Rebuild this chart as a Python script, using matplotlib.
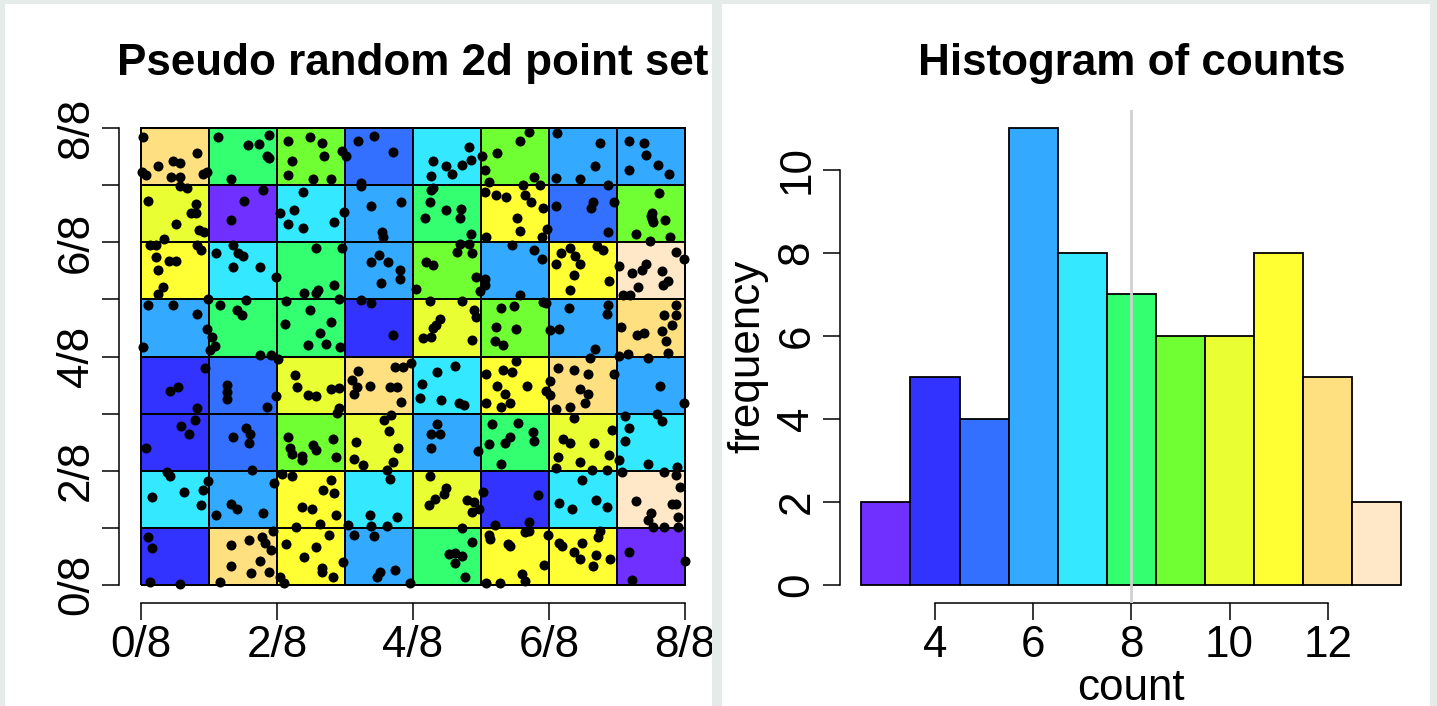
"""Pseudo random 2d point set on an 8x8 grid, plus a histogram of the per-cell counts."""
import numpy as np
import matplotlib
matplotlib.use("Agg")
import matplotlib.pyplot as plt
from matplotlib.colors import ListedColormap, BoundaryNorm
from matplotlib.patches import Rectangle

plt.rcParams["font.family"] = ["Liberation Sans", "DejaVu Sans"]

# --- Data ---
# points per cell, top row (7/8..8/8) first, left to right
cell_counts = [
    [12, 8, 9, 5, 7, 9, 6, 6],
    [10, 3, 7, 6, 8, 11, 5, 9],
    [11, 7, 8, 6, 9, 6, 11, 13],
    [6, 8, 8, 4, 10, 9, 6, 12],
    [4, 5, 10, 12, 7, 11, 12, 6],
    [4, 5, 9, 10, 6, 8, 10, 7],
    [7, 6, 11, 7, 10, 4, 7, 13],
    [4, 12, 11, 6, 8, 11, 11, 3],
]
count_levels = [3, 4, 5, 6, 7, 8, 9, 10, 11, 12, 13]
level_colors = ["#7030ff", "#3333ff", "#3370ff", "#33aaff", "#33e8ff", "#33ff70",
                "#70ff33", "#eaff33", "#ffff33", "#ffe080", "#ffe8c8"]

# point coordinates in eighths, one line per grid row, top first
pts_x8 = [
    0.03, 0.83, 0.48, 0.58, 0.26, 0.02, 0.07, 0.44, 0.58, 0.92, 0.97, 1.13, 1.57, 1.73, 1.88, 1.86, 1.88, 1.33,
    2.17, 2.48, 2.67, 2.69, 2.22, 2.17, 2.53, 2.79, 2.96, 3.19, 3.42, 3.70, 3.01, 3.24, 4.30, 4.49, 4.57, 4.72,
    4.85, 4.82, 4.27, 5.71, 5.57, 5.24, 5.02, 5.06, 5.11, 5.78, 5.62, 5.87, 6.11, 6.75, 6.67, 6.10, 6.46, 6.86,
    7.18, 7.40, 7.43, 7.17, 7.60, 7.76,
    0.11, 0.81, 0.74, 0.81, 0.52, 0.85, 0.93, 0.34, 0.68, 0.57, 1.80, 1.52, 1.33, 2.38, 2.25, 2.05, 2.17, 2.38,
    2.84, 2.99, 3.24, 3.38, 3.83, 3.54, 3.56, 4.29, 4.27, 4.25, 4.48, 4.71, 4.69, 4.18, 4.85, 5.06, 5.22, 5.37,
    5.65, 5.73, 5.91, 5.53, 5.57, 5.97, 5.89, 5.08, 6.10, 6.64, 6.62, 6.95, 6.87, 7.61, 7.51, 7.51, 7.52, 7.71,
    7.27, 7.48, 7.77, 7.49,
    0.13, 0.23, 0.22, 0.41, 0.52, 0.25, 0.82, 0.89, 0.33, 0.25, 0.99, 1.10, 1.36, 1.43, 1.50, 1.36, 1.75, 1.99,
    2.58, 2.95, 2.84, 2.61, 2.58, 2.40, 2.91, 3.50, 3.39, 3.63, 3.81, 3.81, 3.53, 4.69, 4.83, 4.64, 4.87, 4.19,
    4.30, 4.93, 4.98, 4.04, 5.45, 5.78, 5.89, 5.06, 5.06, 5.57, 6.31, 6.18, 6.70, 6.79, 6.38, 6.46, 6.10, 6.36,
    6.88, 6.31, 7.03, 7.22, 7.36, 7.43, 7.66, 7.86, 7.98, 7.75, 7.68, 7.31, 7.09, 7.19,
    0.11, 0.48, 0.83, 0.97, 0.03, 1.16, 1.41, 1.49, 1.54, 1.05, 1.09, 1.01, 1.75, 1.91, 2.14, 2.48, 2.12, 2.79,
    2.64, 2.72, 2.45, 2.93, 3.24, 3.39, 3.70, 4.25, 4.72, 4.90, 4.93, 4.39, 4.34, 4.30, 4.14, 4.27, 4.86, 5.29,
    5.48, 5.22, 5.52, 5.21, 5.32, 5.91, 5.96, 6.29, 6.87, 6.85, 6.01, 6.15, 6.67, 7.86, 7.86, 7.69, 7.80, 7.05,
    7.29, 7.40, 7.66, 7.72, 7.16, 7.75, 7.03,
    0.94, 0.43, 0.55, 0.83, 1.26, 1.26, 1.26, 1.99, 1.86, 2.27, 2.30, 2.45, 2.58, 2.80, 2.91, 2.91, 2.88, 2.02,
    3.19, 3.11, 3.17, 3.14, 3.37, 3.74, 3.86, 3.97, 3.66, 3.76, 3.83, 4.36, 4.62, 4.13, 4.10, 4.41, 4.68, 4.75,
    5.52, 5.08, 5.32, 5.45, 5.24, 5.35, 5.67, 5.96, 5.08, 5.29, 5.42, 6.13, 6.36, 6.57, 6.60, 6.95, 6.02, 6.02,
    6.46, 6.57, 6.53, 6.31, 6.10, 7.63, 7.98, 7.45,
    0.07, 0.59, 0.71, 0.79, 1.36, 1.55, 1.60, 1.59, 1.63, 2.17, 2.19, 2.22, 2.37, 2.37, 2.53, 2.58, 2.82, 2.87,
    3.68, 3.57, 3.65, 3.16, 3.78, 3.14, 3.27, 3.70, 3.62, 4.36, 4.27, 4.39, 4.27, 4.95, 5.16, 5.55, 5.76, 5.78,
    5.42, 5.35, 5.11, 5.29, 6.36, 6.92, 6.20, 6.31, 6.66, 6.13, 6.46, 6.88, 6.10, 6.63, 6.85, 7.12, 7.17, 7.58,
    7.66, 7.12, 7.03, 7.45, 7.88,
    0.38, 0.43, 0.64, 0.17, 0.92, 0.89, 0.99, 1.96, 1.33, 1.42, 1.80, 1.10, 2.07, 2.22, 2.79, 2.68, 2.84, 2.37,
    2.51, 2.87, 2.64, 2.28, 3.37, 3.76, 3.39, 3.62, 3.05, 3.66, 4.25, 4.48, 4.45, 4.32, 4.23, 4.80, 4.89, 4.86,
    4.97, 5.03, 5.83, 5.71, 5.20, 6.49, 6.15, 6.34, 6.69, 6.85, 7.07, 7.69, 7.87, 7.92, 7.28, 7.80, 7.87, 7.50,
    7.45, 7.53, 7.69, 7.89, 7.89,
    0.11, 0.17, 0.13, 0.58, 1.33, 1.59, 1.78, 1.82, 1.91, 1.94, 1.75, 1.33, 1.62, 1.88, 1.16, 2.14, 2.58, 2.76,
    2.40, 2.67, 2.67, 2.82, 2.97, 2.04, 2.10, 3.13, 3.43, 3.52, 3.47, 3.73, 3.95, 4.72, 4.87, 4.53, 4.62, 4.72,
    4.61, 4.77, 5.12, 5.13, 5.40, 5.43, 5.65, 5.71, 5.92, 5.60, 5.65, 5.08, 5.28, 5.98, 6.15, 6.19, 6.49, 6.36,
    6.46, 6.69, 6.64, 6.89, 6.75, 6.72, 7.18, 7.22, 7.99,
]
pts_y8 = [
    7.85, 7.57, 7.42, 7.39, 7.33, 7.23, 7.18, 7.15, 7.15, 7.20, 7.23, 7.85, 7.70, 7.73, 7.88, 7.52, 7.48, 7.11,
    7.78, 7.85, 7.75, 7.52, 7.42, 7.18, 7.11, 7.11, 7.61, 7.78, 7.86, 7.58, 7.52, 7.04, 7.42, 7.33, 7.20, 7.36,
    7.45, 7.67, 7.17, 7.94, 7.78, 7.57, 7.51, 7.26, 7.05, 7.14, 7.01, 7.01, 7.91, 7.75, 7.33, 7.12, 7.11, 7.01,
    7.78, 7.75, 7.54, 7.26, 7.36, 7.20,
    6.73, 6.68, 6.51, 6.51, 6.33, 6.22, 6.18, 6.06, 6.95, 6.98, 6.92, 6.73, 6.39, 6.89, 6.57, 6.51, 6.33, 6.26,
    6.36, 6.54, 6.98, 6.64, 6.70, 6.19, 6.09, 6.96, 6.91, 6.70, 6.57, 6.58, 6.42, 6.42, 6.15, 6.89, 6.83, 6.80,
    6.83, 6.70, 6.61, 6.42, 6.20, 6.23, 6.09, 6.09, 6.64, 6.71, 6.61, 6.70, 6.18, 6.86, 6.51, 6.41, 6.35, 6.39,
    6.15, 6.03, 6.09, 6.46,
    5.95, 5.95, 5.75, 5.68, 5.68, 5.52, 5.95, 5.87, 5.21, 5.09, 5.01, 5.81, 5.95, 5.81, 5.77, 5.56, 5.56, 5.40,
    5.90, 5.90, 5.25, 5.17, 5.11, 5.12, 5.01, 5.78, 5.65, 5.65, 5.52, 5.36, 5.29, 5.97, 5.97, 5.83, 5.81, 5.66,
    5.60, 5.40, 5.15, 5.19, 5.96, 5.87, 5.71, 5.35, 5.26, 5.08, 5.90, 5.81, 5.93, 5.87, 5.76, 5.62, 5.62, 5.43,
    5.32, 5.16, 5.59, 5.47, 5.52, 5.62, 5.50, 5.84, 5.71, 5.33, 5.25, 5.21, 5.07, 5.07,
    4.91, 4.91, 4.75, 4.48, 4.17, 4.91, 4.82, 4.72, 4.99, 4.35, 4.18, 4.12, 4.02, 4.02, 4.97, 4.82, 4.57, 4.61,
    4.41, 4.22, 4.20, 4.17, 4.99, 4.94, 4.38, 4.97, 4.98, 4.82, 4.69, 4.65, 4.55, 4.50, 4.32, 4.35, 4.29, 4.85,
    4.88, 4.51, 4.48, 4.27, 4.20, 4.96, 4.93, 4.85, 4.91, 4.74, 4.47, 4.49, 4.13, 4.91, 4.72, 4.72, 4.56, 4.51,
    4.37, 4.41, 4.45, 4.27, 4.04, 4.06, 4.01,
    3.80, 3.39, 3.46, 3.09, 3.50, 3.38, 3.26, 3.31, 3.12, 3.67, 3.47, 3.33, 3.30, 3.43, 3.44, 3.09, 3.01, 3.96,
    3.74, 3.58, 3.47, 3.35, 3.48, 3.82, 3.82, 3.88, 3.46, 3.46, 3.20, 3.73, 3.84, 3.51, 3.27, 3.23, 3.18, 3.15,
    3.92, 3.70, 3.77, 3.73, 3.49, 3.35, 3.49, 3.39, 3.18, 3.12, 3.18, 3.80, 3.76, 3.69, 3.98, 3.70, 3.57, 3.32,
    3.43, 3.35, 3.19, 3.12, 3.08, 3.49, 3.18, 3.98,
    2.40, 2.78, 2.65, 2.89, 2.59, 2.75, 2.65, 2.49, 2.01, 2.59, 2.40, 2.30, 2.26, 2.18, 2.45, 2.36, 2.55, 2.24,
    2.97, 2.89, 2.70, 2.50, 2.39, 2.21, 2.10, 2.15, 2.01, 2.82, 2.65, 2.65, 2.40, 2.34, 2.81, 2.84, 2.68, 2.52,
    2.59, 2.49, 2.46, 2.12, 2.93, 2.71, 2.55, 2.49, 2.49, 2.24, 2.15, 2.27, 2.04, 2.01, 2.01, 2.96, 2.74, 2.99,
    2.87, 2.52, 2.18, 2.12, 2.07,
    1.98, 1.90, 1.63, 1.53, 1.66, 1.40, 1.82, 1.78, 1.42, 1.32, 1.25, 1.22, 1.94, 1.91, 1.84, 1.66, 1.60, 1.37,
    1.33, 1.22, 1.06, 1.02, 1.22, 1.19, 1.03, 1.03, 1.04, 1.85, 1.91, 1.69, 1.59, 1.50, 1.40, 1.48, 1.45, 1.28,
    1.33, 1.63, 1.57, 1.10, 1.04, 1.84, 1.44, 1.33, 1.48, 1.36, 1.98, 1.98, 1.92, 1.71, 1.47, 1.42, 1.42, 1.25,
    1.13, 1.02, 1.02, 1.02, 1.19,
    0.83, 0.64, 0.05, 0.01, 0.70, 0.79, 0.83, 0.73, 0.61, 0.94, 0.41, 0.33, 0.20, 0.23, 0.05, 0.72, 0.67, 0.88,
    0.48, 0.30, 0.23, 0.14, 0.39, 0.14, 0.03, 0.88, 0.85, 0.23, 0.14, 0.26, 0.03, 0.99, 0.75, 0.54, 0.56, 0.51,
    0.38, 0.14, 0.87, 0.81, 0.72, 0.68, 0.92, 0.95, 0.35, 0.19, 0.07, 0.03, 0.03, 0.87, 0.73, 0.68, 0.73, 0.58,
    0.45, 0.52, 0.33, 0.45, 0.95, 0.83, 0.58, 0.08, 0.42,
]

# --- Derived ---
grid = np.array(cell_counts)[::-1]          # bottom row first for pcolormesh
cmap = ListedColormap(level_colors)
norm = BoundaryNorm(np.arange(2.5, 14.5, 1), cmap.N)
freq = [int((grid == k).sum()) for k in count_levels]

W, H = 1437, 706
BG = "#e4ebe8"
fig = plt.figure(figsize=(W / 100, H / 100), dpi=100, facecolor=BG)


def px_axes(x0, x1, y_top, y_bot):
    return fig.add_axes([x0 / W, 1 - y_bot / H, (x1 - x0) / W, (y_bot - y_top) / H])


# white device panels
for x0, x1 in [(5, 712), (722, 1430)]:
    fig.add_artist(Rectangle((x0 / W, 0), (x1 - x0) / W, (H - 4) / H,
                             transform=fig.transFigure, facecolor="white", edgecolor="none", zorder=-5))

FS = 31.7
TICK = dict(direction="out", length=12.5, width=1.1, labelsize=FS, pad=3.5)

# ============================================================
# Left: grid of cells + points
# ============================================================
ax1 = px_axes(119, 707, 110, 603)
ax1.set_facecolor("none")
edges = np.linspace(0, 1, 9)
ax1.pcolormesh(edges, edges, grid, cmap=cmap, norm=norm, edgecolors="black", linewidth=1.3)
ax1.scatter(np.array(pts_x8) / 8, np.array(pts_y8) / 8, s=52, c="black", linewidths=0,
            clip_on=False, zorder=3)
ax1.set_xlim(-0.04, 1.04)
ax1.set_ylim(-0.04, 1.04)
for s in ["top", "right"]:
    ax1.spines[s].set_visible(False)
ax1.spines["bottom"].set_bounds(0, 1)
ax1.spines["left"].set_bounds(0, 1)
for s in ["bottom", "left"]:
    ax1.spines[s].set_linewidth(1.1)
ax1.set_xticks([0, 0.25, 0.5, 0.75, 1])
ax1.set_xticklabels(["0/8", "2/8", "4/8", "6/8", "8/8"])
ax1.set_yticks(np.arange(9) / 8)
ax1.set_yticklabels([f"{k}/8" if k % 2 == 0 else "" for k in range(9)], rotation=90, va="center")
ax1.tick_params(**TICK)
ax1.set_title("Pseudo random 2d point set", fontsize=FS, fontweight="bold", pad=25)

# ============================================================
# Right: histogram of counts
# ============================================================
ax2 = px_axes(839.7, 1423, 110, 603)
ax2.set_facecolor("none")
ax2.bar(count_levels, freq, width=1, color=level_colors, edgecolor="black", linewidth=1.3, zorder=2)
ax2.axvline(np.mean(grid), color="#d0d0d0", linewidth=2, zorder=3)
ax2.set_xlim(2.06, 13.94)
ax2.set_ylim(-0.44, 11.44)
for s in ["top", "right"]:
    ax2.spines[s].set_visible(False)
ax2.spines["bottom"].set_bounds(4, 12)
ax2.spines["left"].set_bounds(0, 10)
for s in ["bottom", "left"]:
    ax2.spines[s].set_linewidth(1.1)
ax2.set_xticks([4, 6, 8, 10, 12])
ax2.set_yticks([0, 2, 4, 6, 8, 10])
ax2.set_yticklabels(["0", "2", "4", "6", "8", "10"], rotation=90, va="center")
ax2.tick_params(**TICK)
ax2.set_xlabel("count", fontsize=FS, labelpad=1)
ax2.set_ylabel("frequency", fontsize=FS, labelpad=6)
ax2.set_title("Histogram of counts", fontsize=FS, fontweight="bold", pad=25)

# device borders drawn on top so the left title is cut off at the panel edge
for x0, x1 in [(0, 5), (712, 722), (1430, W)]:
    fig.add_artist(Rectangle((x0 / W, 0), (x1 - x0) / W, 1, transform=fig.transFigure,
                             facecolor=BG, edgecolor="none", zorder=20))
fig.add_artist(Rectangle((0, (H - 4) / H), 1, 4 / H, transform=fig.transFigure,
                         facecolor=BG, edgecolor="none", zorder=20))

fig.savefig("out.png", dpi=100, facecolor=BG)
print("Saved: out.png")
